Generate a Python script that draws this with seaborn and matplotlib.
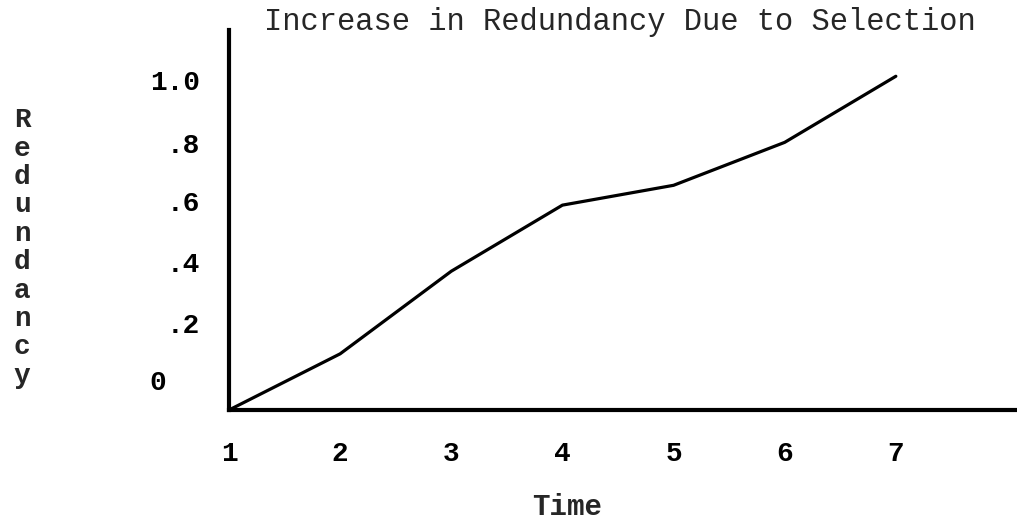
import pandas as pd
import matplotlib.pyplot as plt
import matplotlib.transforms as mtransforms
import seaborn as sb

# values
time = [1, 2, 3, 4, 5, 6, 7]
redundancy = [0.0, 0.17, 0.42, 0.62, 0.68, 0.81, 1.01]
y_ticks = [0, 0.2, 0.4, 0.6, 0.8, 1.0]
y_tick_labels = ['0  ', '.2', '.4', '.6', '.8', '1.0']

df = pd.DataFrame({'Time': time, 'Redundancy': redundancy})

sb.set_style('white')
plt.rcParams['font.family'] = ['Liberation Mono', 'DejaVu Sans Mono']

fig = plt.figure(figsize=(10.17, 5.25), dpi=100)
ax = fig.add_axes([229 / 1017, 1 - 410 / 525, 1 - 229 / 1017, 380 / 525])

sb.lineplot(data=df, x='Time', y='Redundancy', color='black', linewidth=2.3, ax=ax)

ax.set_xlim(1, 8.09)
ax.set_ylim(0, 1.15)
ax.set_xticks(time)
ax.set_yticks(y_ticks)
ax.set_yticklabels(y_tick_labels)
ax.tick_params(axis='both', length=0, labelsize=20, colors='black')
ax.tick_params(axis='x', pad=22)
ax.tick_params(axis='y', pad=21)
for lab in ax.get_xticklabels() + ax.get_yticklabels():
    lab.set_fontweight('bold')

# the typed labels in the original sit a little above their gridline values
shift_px = [30, 21, 16, 11, 3, 0]
for lab, dy in zip(ax.get_yticklabels(), shift_px):
    lab.set_transform(lab.get_transform() + mtransforms.ScaledTranslation(0, dy / 100, fig.dpi_scale_trans))

# only the left and bottom axis lines, drawn heavy
for side in ['top', 'right']:
    ax.spines[side].set_visible(False)
for side in ['left', 'bottom']:
    ax.spines[side].set_linewidth(3)
    ax.spines[side].set_color('black')

ax.set_xlabel('')
ax.set_ylabel('')

fig.text(620 / 1017, 1 - 22 / 525, 'Increase in Redundancy Due to Selection',
         ha='center', va='center', fontsize=22)
fig.text(567 / 1017, 1 - 507 / 525, 'Time', ha='center', va='center', fontsize=21,
         fontweight='bold')
fig.text(22 / 1017, 1 - 248 / 525, '\n'.join('Redundancy'), ha='center', va='center',
         fontsize=20, linespacing=1.12, fontweight='bold')

plt.savefig('out.png', dpi=100)
